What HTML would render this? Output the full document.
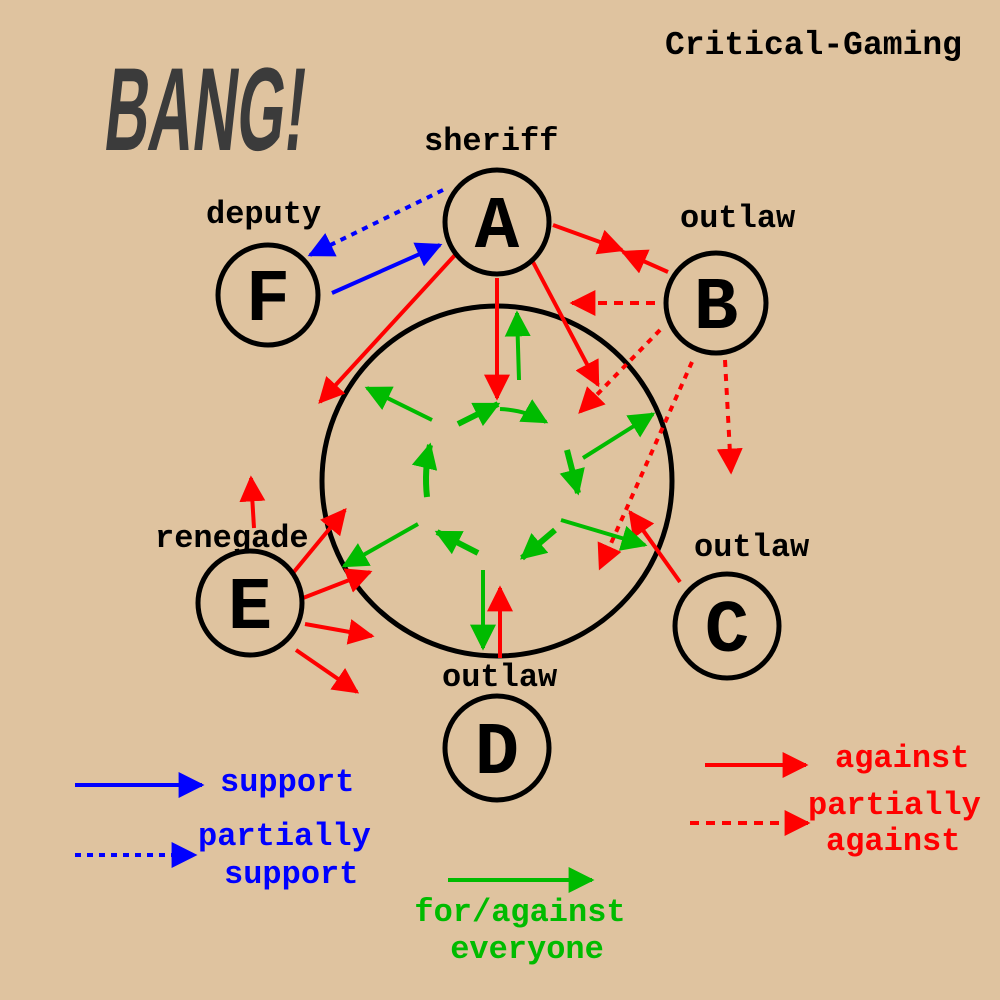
<!DOCTYPE html>
<html><head><meta charset="utf-8"><style>
html,body{margin:0;padding:0;background:#dfc39f;}
svg{display:block;}
text{font-family:"Liberation Mono",monospace;font-weight:bold;}
</style></head><body>
<svg width="1000" height="1000" viewBox="0 0 1000 1000">
<defs>
<marker id="hr" viewBox="0 0 10 10" refX="9" refY="5" markerWidth="26" markerHeight="26" markerUnits="userSpaceOnUse" orient="auto"><path d="M0,0 L10,5 L0,10 z" fill="#f00"/></marker>
<marker id="hb" viewBox="0 0 10 10" refX="9" refY="5" markerWidth="26" markerHeight="26" markerUnits="userSpaceOnUse" orient="auto"><path d="M0,0 L10,5 L0,10 z" fill="#00f"/></marker>
<marker id="hg" viewBox="0 0 10 10" refX="9" refY="5" markerWidth="26" markerHeight="26" markerUnits="userSpaceOnUse" orient="auto"><path d="M0,0 L10,5 L0,10 z" fill="#0b0"/></marker>
</defs>
<rect width="1000" height="1000" fill="#dfc39f"/>
<g transform="translate(82,150) scale(1,1.6) skewX(-10)">
<text x="20" y="0" font-size="74" fill="#3b3b3b" style="font-family:'Liberation Sans',sans-serif;font-weight:bold" textLength="200" lengthAdjust="spacingAndGlyphs">BANG!</text>
</g>
<text x="962" y="54" font-size="33" text-anchor="end" fill="#000">Critical-Gaming</text>

<circle cx="497" cy="481" r="175" fill="none" stroke="#000" stroke-width="5"/>

<g fill="none" stroke-width="4">
<line x1="455" y1="255" x2="320" y2="402" stroke="#f00" marker-end="url(#hr)"/>
<line x1="497" y1="278" x2="497" y2="398" stroke="#f00" marker-end="url(#hr)"/>
<line x1="533" y1="262" x2="598" y2="385" stroke="#f00" marker-end="url(#hr)"/>
<line x1="553" y1="225" x2="622" y2="250" stroke="#f00" marker-end="url(#hr)"/>
<line x1="668" y1="272" x2="623" y2="252" stroke="#f00" marker-end="url(#hr)"/>
<line x1="655" y1="303" x2="572" y2="303" stroke="#f00" stroke-dasharray="9,7" marker-end="url(#hr)"/>
<line x1="660" y1="330" x2="580" y2="412" stroke="#f00" stroke-dasharray="6,6" marker-end="url(#hr)"/>
<line x1="692" y1="362" x2="600" y2="568" stroke="#f00" stroke-dasharray="6,6" marker-end="url(#hr)"/>
<line x1="725" y1="360" x2="731" y2="472" stroke="#f00" stroke-dasharray="7,7" marker-end="url(#hr)"/>
<line x1="680" y1="582" x2="630" y2="512" stroke="#f00" marker-end="url(#hr)"/>
<line x1="500" y1="658" x2="500" y2="588" stroke="#f00" marker-end="url(#hr)"/>
<line x1="293" y1="573" x2="345" y2="510" stroke="#f00" marker-end="url(#hr)"/>
<line x1="303" y1="598" x2="370" y2="572" stroke="#f00" marker-end="url(#hr)"/>
<line x1="305" y1="624" x2="372" y2="636" stroke="#f00" marker-end="url(#hr)"/>
<line x1="296" y1="650" x2="357" y2="692" stroke="#f00" marker-end="url(#hr)"/>
<line x1="254" y1="528" x2="251" y2="478" stroke="#f00" marker-end="url(#hr)"/>
</g>
<g fill="none" stroke-width="4">
<line x1="332" y1="293" x2="440" y2="245" stroke="#00f" marker-end="url(#hb)"/>
<line x1="443" y1="190" x2="310" y2="255" stroke="#00f" stroke-dasharray="6,6" marker-end="url(#hb)"/>
</g>
<g fill="none" stroke="#0b0" stroke-width="4">
<line x1="519" y1="380" x2="517" y2="313" marker-end="url(#hg)"/>
<line x1="432" y1="420" x2="367" y2="388" marker-end="url(#hg)"/>
<line x1="458" y1="424" x2="498" y2="404" stroke-width="6" marker-end="url(#hg)"/>
<path d="M500,409 Q525,410 546,422" marker-end="url(#hg)"/>
<line x1="583" y1="458" x2="653" y2="414" marker-end="url(#hg)"/>
<line x1="567" y1="450" x2="578" y2="493" stroke-width="6" marker-end="url(#hg)"/>
<line x1="561" y1="520" x2="645" y2="545" marker-end="url(#hg)"/>
<line x1="555" y1="530" x2="522" y2="558" stroke-width="6" marker-end="url(#hg)"/>
<line x1="478" y1="553" x2="437" y2="532" stroke-width="6" marker-end="url(#hg)"/>
<line x1="418" y1="524" x2="344" y2="566" marker-end="url(#hg)"/>
<line x1="483" y1="570" x2="483" y2="648" marker-end="url(#hg)"/>
<path d="M427,497 Q424,470 430,445" stroke-width="6" marker-end="url(#hg)"/>
</g>

<g fill="#dfc39f" stroke="#000" stroke-width="5">
<circle cx="497" cy="222" r="52"/>
<circle cx="716" cy="303" r="50"/>
<circle cx="727" cy="626" r="52"/>
<circle cx="497" cy="748" r="52"/>
<circle cx="250" cy="603" r="52"/>
<circle cx="268" cy="295" r="50"/>
</g>
<g font-size="74" text-anchor="middle" fill="#000">
<text x="497" y="247">A</text><text x="716" y="328">B</text><text x="727" y="651">C</text>
<text x="497" y="773">D</text><text x="250" y="628">E</text><text x="268" y="320">F</text>
</g>
<g font-size="32" fill="#000">
<text x="424" y="150">sheriff</text>
<text x="680" y="227">outlaw</text>
<text x="694" y="556">outlaw</text>
<text x="442" y="686">outlaw</text>
<text x="155" y="547">renegade</text>
<text x="206" y="223">deputy</text>
</g>

<g font-size="32">
<line x1="75" y1="785" x2="202" y2="785" stroke="#00f" stroke-width="4" marker-end="url(#hb)"/>
<text x="220" y="791" fill="#00f">support</text>
<line x1="75" y1="855" x2="195" y2="855" stroke="#00f" stroke-width="4" stroke-dasharray="6,6" marker-end="url(#hb)"/>
<text x="198" y="845" fill="#00f">partially</text>
<text x="224" y="883" fill="#00f">support</text>
<line x1="448" y1="880" x2="592" y2="880" stroke="#0b0" stroke-width="4" marker-end="url(#hg)"/>
<text x="520" y="921" fill="#0b0" text-anchor="middle">for/against</text>
<text x="527" y="958" fill="#0b0" text-anchor="middle">everyone</text>
<line x1="705" y1="765" x2="806" y2="765" stroke="#f00" stroke-width="4" marker-end="url(#hr)"/>
<text x="835" y="767" fill="#f00">against</text>
<line x1="690" y1="823" x2="808" y2="823" stroke="#f00" stroke-width="4" stroke-dasharray="9,7" marker-end="url(#hr)"/>
<text x="808" y="814" fill="#f00">partially</text>
<text x="826" y="850" fill="#f00">against</text>
</g>
</svg>
</body></html>
